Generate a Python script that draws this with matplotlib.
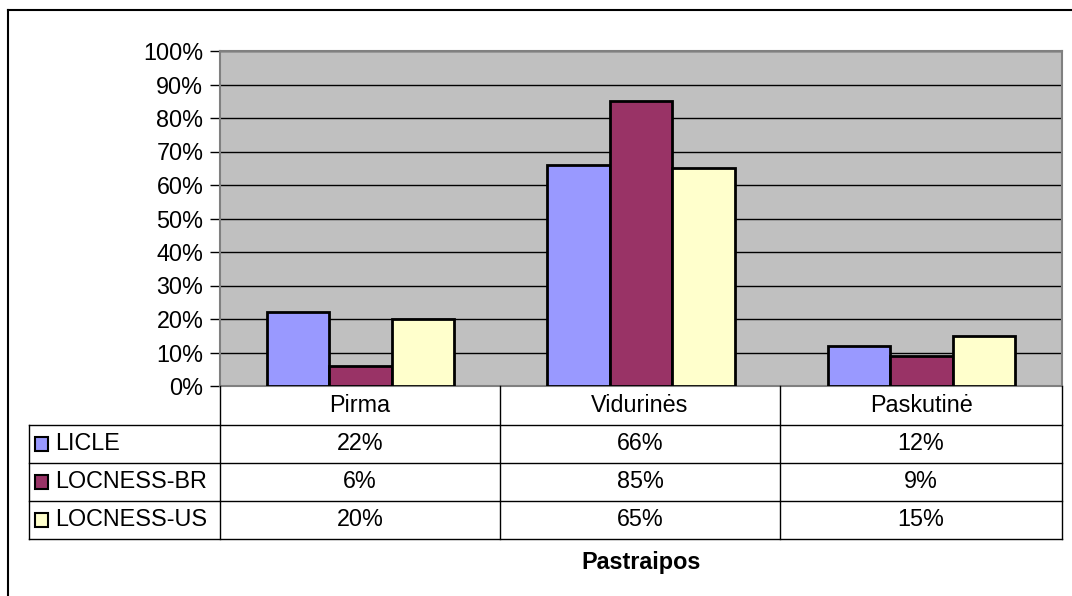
import numpy as np
import matplotlib.pyplot as plt
from matplotlib.patches import Rectangle
from matplotlib.lines import Line2D

plt.rcParams['font.family'] = ['Liberation Sans', 'DejaVu Sans']

categories = ["Pirma", "Vidurinės", "Paskutinė"]
series = ["LICLE", "LOCNESS-BR", "LOCNESS-US"]
licle = [22, 66, 12]
locness_br = [6, 85, 9]
locness_us = [20, 65, 15]
values = [licle, locness_br, locness_us]
colors = ["#9999FF", "#993366", "#FFFFCC"]
yticks = [0, 10, 20, 30, 40, 50, 60, 70, 80, 90, 100]

FS = 16.8
W, H = 1072, 596
fig = plt.figure(figsize=(W / 100, H / 100), dpi=100)

def fx(px):
    return px / W

def fy(py):
    return 1 - py / H

# plot area in pixels
L, R, T, B = 220, 1062, 51, 386
ax = fig.add_axes([fx(L), fy(B), fx(R - L), (B - T) / H])
ax.set_facecolor("#C0C0C0")

x = np.arange(len(categories))
bw = 1 / (3 + 1.5)
for i, (vals, c) in enumerate(zip(values, colors)):
    ax.bar(x + (i - 1) * bw, vals, width=bw, color=c, edgecolor="black",
           linewidth=2, zorder=3)

ax.set_xlim(-0.5, len(categories) - 0.5)
ax.set_ylim(0, 100)
ax.set_yticks(yticks)
ax.set_yticklabels([f"{t}%" for t in yticks], fontsize=FS)
ax.set_xticks([])
ax.yaxis.grid(True, color="black", linewidth=1, zorder=0)
ax.set_axisbelow(True)
ax.tick_params(axis="y", length=7, width=1, pad=5, color="black")
for s in ax.spines.values():
    s.set_color("#808080")
    s.set_linewidth(1.5)

# table
col_edges = [220, 500, 780, 1062]
row_edges = [386, 425, 463, 501, 539]
tl = dict(color="black", linewidth=1, transform=fig.transFigure)
for yy in row_edges[1:]:
    fig.add_artist(Line2D([fx(29), fx(1062)], [fy(yy), fy(yy)], **tl))
for xx in col_edges:
    fig.add_artist(Line2D([fx(xx), fx(xx)], [fy(386), fy(539)], **tl))
fig.add_artist(Line2D([fx(29), fx(29)], [fy(425), fy(539)], **tl))

for j, cat in enumerate(categories):
    cx = (col_edges[j] + col_edges[j + 1]) / 2
    fig.text(fx(cx), fy((row_edges[0] + row_edges[1]) / 2), cat, fontsize=FS,
             ha="center", va="center")
    for i, vals in enumerate(values):
        cy = (row_edges[i + 1] + row_edges[i + 2]) / 2
        fig.text(fx(cx), fy(cy), f"{vals[j]}%", fontsize=FS,
                 ha="center", va="center")

for i, (name, c) in enumerate(zip(series, colors)):
    cy = (row_edges[i + 1] + row_edges[i + 2]) / 2
    fig.add_artist(Rectangle((fx(35), fy(cy + 7)), fx(13), 14 / H,
                             facecolor=c, edgecolor="black", linewidth=1.5,
                             transform=fig.transFigure))
    fig.text(fx(55), fy(cy), name, fontsize=FS, ha="left", va="center")

fig.text(fx(641), fy(563), "Pastraipos", fontsize=FS, fontweight="bold",
         ha="center", va="center")

# outer chart border
fig.add_artist(Line2D([fx(8), fx(8)], [fy(10), fy(600)], color="black",
                      linewidth=1.5, transform=fig.transFigure))
fig.add_artist(Line2D([fx(8), fx(1080)], [fy(10), fy(10)], color="black",
                      linewidth=1.5, transform=fig.transFigure))

fig.savefig("out.png", dpi=100)
